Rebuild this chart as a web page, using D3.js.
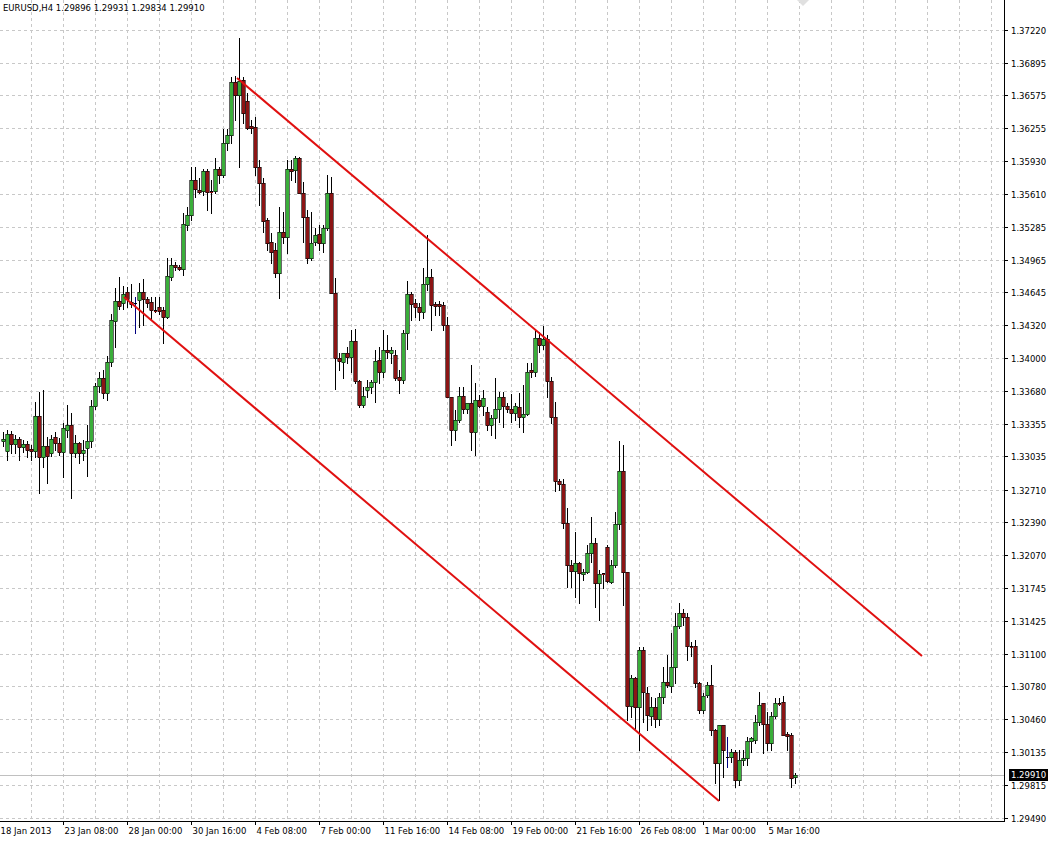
<!DOCTYPE html>
<html><head><meta charset="utf-8">
<script src="https://cdn.jsdelivr.net/npm/d3@7"></script>
<style>
body{margin:0;background:#fff}
svg{display:block}
text{font-family:'DejaVu Sans',sans-serif;font-size:8.5px;fill:#000}
</style>
</head><body>
<svg id="chart" width="1048" height="841"></svg>
<script>
const symbolTitle = "EURUSD,H4";
const lastBar = [1.29896, 1.29931, 1.29834, 1.29910];
const openP = [1.33183,1.33090,1.33253,1.33156,1.33203,1.33123,1.33156,1.33106,1.33090,1.33432,
1.33027,1.33136,1.33073,1.33229,1.33163,1.33083,1.33296,1.33342,1.33067,1.33163,
1.33067,1.33113,1.33186,1.33528,1.33724,1.33804,1.33658,1.33960,1.34365,1.34555,
1.34535,1.34651,1.34551,1.34538,1.34568,1.34651,1.34575,1.34551,1.34475,1.34498,
1.34475,1.34405,1.34798,1.34911,1.34894,1.34871,1.35303,1.35403,1.35745,1.35652,
1.35642,1.35838,1.35639,1.35642,1.35852,1.35792,1.36110,1.36187,1.36709,1.36580,
1.36726,1.36523,1.36273,1.36266,1.35874,1.35712,1.35353,1.35140,1.35057,1.34838,
1.35240,1.35184,1.35852,1.35841,1.35964,1.35622,1.35386,1.34978,1.35140,1.35214,
1.35130,1.35270,1.35622,1.34635,1.33997,1.33963,1.34047,1.34007,1.34169,1.33777,
1.33538,1.33691,1.33711,1.33767,1.33980,1.33867,1.34083,1.34053,1.34030,1.33814,
1.33784,1.34243,1.34628,1.34535,1.34501,1.34455,1.34725,1.34792,1.34528,1.34528,
1.34518,1.34322,1.33615,1.33299,1.33392,1.33628,1.33505,1.33555,1.33279,1.33588,
1.33528,1.33475,1.33342,1.33409,1.33505,1.33615,1.33528,1.33499,1.33465,1.33515,
1.33425,1.33449,1.33884,1.33867,1.34193,1.34126,1.34183,1.33777,1.33425,1.32797,
1.32764,1.32384,1.31969,1.31916,1.31986,1.31883,1.31906,1.32086,1.32182,1.31796,
1.31896,1.32148,1.31806,1.31969,1.32368,1.32894,1.31906,1.30586,1.30860,1.30579,
1.31142,1.30719,1.30490,1.30579,1.30457,1.30673,1.30826,1.30783,1.30972,1.31371,
1.31498,1.31458,1.31175,1.31175,1.30810,1.30550,1.30696,1.30793,1.30354,1.30031,
1.30400,1.30091,1.30091,1.30141,1.29862,1.30058,1.30075,1.30244,1.30254,1.30433,
1.30613,1.30410,1.30227,1.30490,1.30619,1.30629,1.30311,1.30304,1.29896];
const highP = [1.33276,1.33296,1.33289,1.33243,1.33229,1.33196,1.33189,1.33146,1.33571,1.33671,
1.33688,1.33229,1.33246,1.33279,1.33213,1.33359,1.33538,1.33459,1.33246,1.33179,
1.33196,1.33342,1.33588,1.33751,1.33864,1.33884,1.34020,1.34432,1.34682,1.34792,
1.34705,1.34698,1.34722,1.34601,1.34732,1.34772,1.34601,1.34601,1.34601,1.34598,
1.34501,1.34978,1.34978,1.34944,1.34911,1.35420,1.35482,1.35874,1.35874,1.35762,
1.35852,1.35852,1.35745,1.35958,1.35874,1.36250,1.36250,1.36759,1.36766,1.37135,
1.36759,1.36597,1.36333,1.36366,1.35941,1.35762,1.35370,1.35224,1.35124,1.35482,
1.35436,1.35941,1.35941,1.35981,1.35974,1.35728,1.35453,1.35436,1.35270,1.35303,
1.35303,1.35795,1.35778,1.34782,1.34047,1.34053,1.34109,1.34279,1.34289,1.33784,
1.33717,1.33784,1.33784,1.34080,1.34109,1.34276,1.34226,1.34109,1.34080,1.33884,
1.34276,1.34758,1.34651,1.34575,1.34535,1.34878,1.35207,1.34868,1.34551,1.34561,
1.34551,1.34405,1.33621,1.33492,1.33717,1.33717,1.33561,1.33930,1.33751,1.33638,
1.33688,1.33521,1.33442,1.33801,1.33671,1.33671,1.33561,1.33648,1.33555,1.33655,
1.33734,1.33947,1.33947,1.34276,1.34259,1.34312,1.34226,1.33817,1.33571,1.32811,
1.32811,1.32525,1.32019,1.32298,1.32002,1.31936,1.32165,1.32438,1.32232,1.31923,
1.31896,1.32165,1.32019,1.32494,1.33189,1.33146,1.31906,1.30893,1.30876,1.31168,
1.31168,1.30776,1.30679,1.30663,1.30713,1.30972,1.31089,1.31302,1.31498,1.31600,
1.31544,1.31498,1.31215,1.31235,1.30826,1.30713,1.30826,1.30989,1.30367,1.30400,
1.30400,1.30287,1.30171,1.30156,1.30156,1.30156,1.30287,1.30287,1.30500,1.30729,
1.30619,1.30533,1.30533,1.30663,1.30663,1.30686,1.30337,1.30321,1.29931];
const lowP = [1.33136,1.33000,1.33067,1.33067,1.33000,1.33083,1.33027,1.33000,1.33027,1.32675,
1.32933,1.32771,1.33040,1.33100,1.33050,1.32837,1.33229,1.32625,1.33033,1.32967,
1.33000,1.32844,1.33129,1.33505,1.33668,1.33608,1.33588,1.33920,1.34109,1.34485,
1.34485,1.34501,1.34501,1.34243,1.34305,1.34322,1.34501,1.34372,1.34455,1.34432,
1.34143,1.34392,1.34765,1.34861,1.34861,1.34815,1.35255,1.35353,1.35582,1.35616,
1.35599,1.35449,1.35420,1.35616,1.35712,1.35778,1.36037,1.36104,1.36333,1.35874,
1.36300,1.36250,1.36204,1.35795,1.35499,1.35240,1.35057,1.34928,1.34798,1.34585,
1.35124,1.35028,1.35745,1.35728,1.35616,1.35140,1.34928,1.34961,1.35107,1.35057,
1.35044,1.35255,1.34635,1.33701,1.33884,1.33801,1.33947,1.33867,1.33751,1.33521,
1.33521,1.33621,1.33655,1.33571,1.33751,1.33817,1.33997,1.33947,1.33784,1.33655,
1.33751,1.34093,1.34372,1.34405,1.34372,1.34389,1.34668,1.34276,1.34422,1.34422,
1.34279,1.33615,1.33146,1.33196,1.33375,1.33459,1.33465,1.33100,1.33050,1.33521,
1.33442,1.33296,1.33246,1.33213,1.33375,1.33325,1.33475,1.33375,1.33392,1.33325,
1.33279,1.33442,1.33817,1.33824,1.34063,1.34093,1.33621,1.33365,1.32697,1.32704,
1.32338,1.31756,1.31756,1.31660,1.31594,1.31823,1.31890,1.32002,1.31560,1.31431,
1.31744,1.31806,1.31790,1.31952,1.32328,1.31577,1.30450,1.30483,1.30354,1.30156,
1.30433,1.30354,1.30400,1.30383,1.30400,1.30613,1.30776,1.30729,1.30810,1.31348,
1.31381,1.31039,1.31079,1.30776,1.30517,1.30517,1.30679,1.30304,1.29829,1.29666,
1.29895,1.29991,1.30041,1.29795,1.29812,1.30008,1.30008,1.30141,1.30221,1.30400,
1.30125,1.30156,1.30156,1.30467,1.30596,1.30304,1.30156,1.29795,1.29834];
const closeP = [1.33206,1.33253,1.33156,1.33206,1.33123,1.33156,1.33103,1.33087,1.33432,1.33027,
1.33136,1.33043,1.33206,1.33163,1.33083,1.33309,1.33342,1.33067,1.33163,1.33067,
1.33103,1.33186,1.33528,1.33724,1.33804,1.33658,1.33960,1.34372,1.34555,1.34511,
1.34625,1.34575,1.34528,1.34538,1.34651,1.34575,1.34541,1.34472,1.34465,1.34462,
1.34405,1.34805,1.34911,1.34888,1.34874,1.35313,1.35403,1.35745,1.35662,1.35632,
1.35838,1.35626,1.35626,1.35852,1.35792,1.36110,1.36187,1.36709,1.36580,1.36719,
1.36400,1.36260,1.36260,1.35874,1.35712,1.35346,1.35124,1.35044,1.34838,1.35240,
1.35184,1.35852,1.35838,1.35964,1.35622,1.35386,1.34978,1.35130,1.35207,1.35130,
1.35270,1.35616,1.34635,1.33997,1.33970,1.34047,1.34007,1.34169,1.33777,1.33538,
1.33628,1.33711,1.33767,1.33973,1.33867,1.34083,1.34063,1.34080,1.33801,1.33784,
1.34243,1.34628,1.34528,1.34501,1.34455,1.34725,1.34792,1.34518,1.34508,1.34508,
1.34322,1.33615,1.33299,1.33392,1.33628,1.33505,1.33555,1.33279,1.33588,1.33528,
1.33605,1.33342,1.33409,1.33499,1.33615,1.33528,1.33499,1.33459,1.33528,1.33425,
1.33449,1.33867,1.33867,1.34193,1.34126,1.34183,1.33777,1.33425,1.32797,1.32764,
1.32384,1.31969,1.31916,1.31986,1.31890,1.31906,1.32086,1.32182,1.31796,1.31883,
1.31890,1.31816,1.31969,1.32368,1.32894,1.31906,1.30586,1.30860,1.30579,1.31142,
1.30729,1.30500,1.30579,1.30457,1.30673,1.30826,1.30793,1.30966,1.31371,1.31498,
1.31458,1.31175,1.31168,1.30816,1.30550,1.30686,1.30793,1.30354,1.30031,1.30400,
1.30156,1.30091,1.30135,1.29862,1.30058,1.30075,1.30244,1.30271,1.30433,1.30596,
1.30410,1.30227,1.30490,1.30619,1.30606,1.30304,1.30297,1.29879,1.29910];
const priceTicks = [1.37220,1.36895,1.36575,1.36255,1.35930,1.35610,1.35285,1.34965,1.34645,1.34320,
1.34000,1.33680,1.33355,1.33035,1.32710,1.32390,1.32070,1.31745,1.31425,1.31100,
1.30780,1.30460,1.30135,1.29815,1.29490];
const timeLabels = ["18 Jan 2013","23 Jan 08:00","28 Jan 00:00","30 Jan 16:00","4 Feb 08:00","7 Feb 00:00",
"11 Feb 16:00","14 Feb 08:00","19 Feb 00:00","21 Feb 16:00","26 Feb 08:00","1 Mar 00:00","5 Mar 16:00"];
const timeLabelBars = [-1,15,31,47,63,79,95,111,127,143,159,175,191];
const upperChannel = [[58.5,1.36745],[229.75,1.31078]];
const lowerChannel = [[30.25,1.34598],[179,1.29656]];
const lastPrice = 1.29910;

const W = 1048, H = 841, axisX = 1004, axisY = 821;
const svg = d3.select("#chart");
svg.append("rect").attr("width",W).attr("height",H).attr("fill","#fff");

const x = d3.scaleLinear().domain([0,250]).range([3,1003]);
const y = d3.scaleLinear().domain([1.29490,1.37220]).range([818,29.6]);
const cr = v => Math.round(v) + 0.5;

// grid
const g = svg.append("g");
const gridBars = d3.range(7, 251, 8);
g.selectAll("line.vg").data(gridBars).join("line")
  .attr("x1",d=>cr(x(d))).attr("x2",d=>cr(x(d))).attr("y1",0).attr("y2",axisY)
  .attr("stroke","#c8c8c8").attr("stroke-dasharray","3,3");
g.selectAll("line.hg").data(priceTicks).join("line")
  .attr("x1",0).attr("x2",axisX).attr("y1",d=>cr(y(d))).attr("y2",d=>cr(y(d)))
  .attr("stroke","#c8c8c8").attr("stroke-dasharray","3,3");

// last price line
svg.append("line").attr("x1",0).attr("x2",axisX).attr("y1",cr(y(lastPrice))).attr("y2",cr(y(lastPrice)))
  .attr("stroke","#c0c0c0");

// candles
const bars = openP.map((o,i)=>({i,o,h:highP[i],l:lowP[i],c:closeP[i]}));
const cg = svg.append("g");
bars.forEach(b=>{
  const cx = Math.round(x(b.i));
  const yt = Math.round(y(Math.max(b.o,b.c))), yb = Math.round(y(Math.min(b.o,b.c)));
  const yh = Math.round(y(b.h)), yl = Math.round(y(b.l));
  const doji = b.o === b.c;
  cg.append("line").attr("x1",cx+0.5).attr("x2",cx+0.5).attr("y1",yh).attr("y2",yl+1)
    .attr("stroke", doji ? "#000080" : "#000");
  if (doji) {
    cg.append("line").attr("x1",cx-1).attr("x2",cx+2).attr("y1",yt+0.5).attr("y2",yt+0.5).attr("stroke","#000");
    return;
  }
  const hgt = Math.max(1, yb-yt);
  const up = b.c > b.o;
  cg.append("rect").attr("x",cx-1).attr("y",yt).attr("width",3).attr("height",hgt+1)
    .attr("fill", up ? "#3aae3a" : "#8c1414");
  if (hgt>=2) {
    cg.append("rect").attr("x",cx-1.3).attr("y",yt+0.3).attr("width",3.6).attr("height",hgt+0.4)
      .attr("fill","none").attr("stroke","#000").attr("stroke-width",0.6);
  } else {
    cg.append("line").attr("x1",cx-1).attr("x2",cx+2).attr("y1",yt+0.5).attr("y2",yt+0.5).attr("stroke","#000");
  }
});

// channel lines
const line = d3.line().x(d=>x(d[0])).y(d=>y(d[1]));
[upperChannel, lowerChannel].forEach(ch=>{
  svg.append("path").attr("d",line(ch)).attr("fill","none").attr("stroke","#e01010").attr("stroke-width",2);
});

// shift marker
svg.append("path").attr("d","M797,0 L809,0 L803,6 Z").attr("fill","#e0e0e0");

// axes frame
svg.append("rect").attr("x",axisX).attr("y",0).attr("width",W-axisX).attr("height",H).attr("fill","#fff");
svg.append("rect").attr("x",0).attr("y",axisY).attr("width",W).attr("height",H-axisY).attr("fill","#fff");
svg.append("line").attr("x1",axisX+0.5).attr("x2",axisX+0.5).attr("y1",0).attr("y2",axisY+1).attr("stroke","#000");
svg.append("line").attr("x1",0).attr("x2",axisX+1).attr("y1",axisY+0.5).attr("y2",axisY+0.5).attr("stroke","#000");

// right axis
const ra = svg.append("g");
priceTicks.forEach(p=>{
  const yy = cr(y(p));
  ra.append("line").attr("x1",axisX).attr("x2",axisX+4).attr("y1",yy).attr("y2",yy).attr("stroke","#000");
  ra.append("text").attr("x",1011).attr("y",yy+3).text(p.toFixed(5));
});
// last price box
const ly = Math.round(y(lastPrice));
ra.append("rect").attr("x",axisX+5).attr("y",ly-6).attr("width",W-axisX-5).attr("height",12).attr("fill","#000");
ra.append("text").attr("x",1011).attr("y",ly+3).style("fill","#fff").text(lastPrice.toFixed(5));

// bottom axis
const ba = svg.append("g");
timeLabels.forEach((t,k)=>{
  const xx = cr(x(timeLabelBars[k]));
  ba.append("line").attr("x1",xx).attr("x2",xx).attr("y1",axisY).attr("y2",axisY+4).attr("stroke","#000");
  ba.append("text").attr("x",xx+1).attr("y",834).text(t);
});

// title
svg.append("text").attr("x",3).attr("y",11).text(symbolTitle + "  " + lastBar.map(v=>v.toFixed(5)).join(" "));
</script>
</body></html>
